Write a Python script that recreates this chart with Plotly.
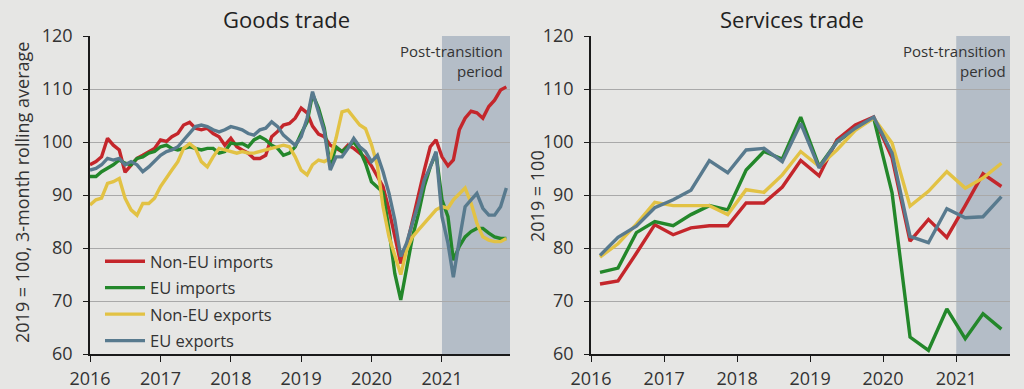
import pandas as pd
import plotly.graph_objects as go
from plotly.subplots import make_subplots

# ---------------- Goods trade (monthly, Jan 2016 - Dec 2021) ----------------
goods_months = pd.date_range("2016-01-01", "2021-12-01", freq="MS")

goods_nonEU_imports = [
    95.7, 96.3, 97.2, 100.7, 99.4, 98.5, 94.3, 95.7, 96.9, 97.5, 98.2, 98.8,
    100.4, 100.1, 101.0, 101.6, 103.2, 103.7, 102.6, 102.3, 102.6, 101.6, 101.0, 99.4,
    100.7, 99.1, 98.5, 97.9, 96.9, 96.9, 97.5, 101.0, 102.0, 103.2, 103.5, 104.5,
    106.4, 105.5, 103.0, 101.5, 101.0, 99.4, 98.8, 98.2, 99.4, 98.8, 97.9, 97.0,
    95.5, 93.5, 91.6, 87.2, 82.1, 77.1, 80.3, 85.3, 89.7, 94.7, 99.1, 100.4,
    97.2, 95.5, 96.6, 102.3, 104.5, 105.8, 105.5, 104.5, 106.7, 107.9, 109.8, 110.4,
]
goods_EU_imports = [
    93.5, 93.5, 94.4, 95.0, 95.7, 96.6, 96.0, 95.7, 96.9, 97.2, 97.9, 98.2,
    99.1, 99.4, 98.8, 98.5, 98.8, 99.1, 98.8, 98.5, 98.8, 98.8, 97.9, 98.2,
    99.8, 99.6, 99.7, 99.1, 100.4, 101.0, 100.4, 99.4, 98.8, 97.5, 97.9, 99.1,
    101.6, 103.8, 109.0, 106.4, 102.6, 95.5, 99.1, 98.2, 99.1, 100.0, 98.5, 96.0,
    92.5, 91.5, 90.5, 83.4, 75.2, 70.2, 76.5, 82.1, 86.5, 91.6, 95.3, 97.9,
    89.1, 85.9, 77.7, 80.3, 82.1, 83.1, 83.7, 83.7, 82.8, 82.1, 81.8, 81.8,
]
goods_nonEU_exports = [
    88.1, 89.1, 89.4, 92.2, 92.5, 93.1, 89.4, 87.2, 86.2, 88.4, 88.4, 89.4,
    91.6, 93.1, 94.7, 96.3, 98.8, 99.7, 98.8, 96.3, 95.3, 97.2, 98.8, 98.5,
    98.2, 97.9, 98.2, 97.9, 97.9, 98.2, 98.5, 98.8, 99.1, 99.4, 99.1, 97.2,
    94.7, 93.8, 95.7, 96.6, 96.3, 96.9, 100.7, 105.7, 106.0, 104.5, 103.2, 102.5,
    99.5, 95.5, 87.8, 82.1, 78.4, 75.0, 79.6, 82.1, 83.4, 84.7, 85.9, 87.2,
    87.8, 87.5, 89.1, 90.3, 91.3, 88.5, 84.7, 82.1, 81.5, 81.2, 81.2, 81.8,
]
goods_EU_exports = [
    94.7, 95.0, 95.7, 96.9, 96.6, 96.9, 95.7, 96.3, 95.7, 94.4, 95.3, 96.3,
    97.5, 98.2, 98.5, 99.1, 100.4, 101.6, 102.9, 103.2, 102.9, 102.3, 101.9, 102.3,
    102.9, 102.6, 102.3, 101.6, 101.3, 102.3, 102.6, 103.8, 102.9, 101.3, 100.4, 99.4,
    101.0, 104.5, 109.5, 105.7, 102.0, 94.7, 97.2, 97.2, 98.8, 100.7, 99.1, 98.2,
    96.3, 97.5, 94.4, 90.3, 85.3, 78.4, 80.9, 84.7, 88.4, 92.8, 95.3, 98.2,
    85.9, 80.9, 74.5, 81.5, 87.8, 89.1, 90.3, 87.5, 86.2, 86.2, 87.8, 91.3,
]

# ---------------- Services trade (quarterly, 2016 Q1 - 2021 Q3) ----------------
services_quarters = [
    "2016-02-15", "2016-05-15", "2016-08-15", "2016-11-15",
    "2017-02-15", "2017-05-15", "2017-08-15", "2017-11-15",
    "2018-02-15", "2018-05-15", "2018-08-15", "2018-11-15",
    "2019-02-15", "2019-05-15", "2019-08-15", "2019-11-15",
    "2020-02-15", "2020-05-15", "2020-08-15", "2020-11-15",
    "2021-02-15", "2021-05-15", "2021-08-15",
]
services_nonEU_imports = [73.2, 73.8, 79.0, 84.4, 82.5, 83.8, 84.2, 84.2, 88.5, 88.5, 91.5, 96.5,
                          93.6, 100.4, 103.2, 104.7, 97.0, 81.3, 85.4, 82.0, 88.0, 94.0, 91.6]
services_EU_imports = [75.4, 76.2, 82.9, 85.0, 84.2, 86.3, 88.0, 87.2, 94.7, 98.2, 96.8, 104.7,
                       95.4, 100.0, 102.5, 104.5, 90.4, 63.2, 60.7, 68.5, 62.9, 67.6, 64.7]
services_nonEU_exports = [78.3, 80.8, 84.5, 88.6, 88.0, 88.0, 88.0, 86.3, 91.0, 90.5, 93.8, 98.2,
                          95.4, 98.5, 102.2, 104.5, 99.8, 87.9, 90.7, 94.4, 91.3, 93.2, 96.0]
services_EU_exports = [78.6, 82.0, 84.1, 87.6, 89.1, 90.9, 96.5, 94.2, 98.5, 98.8, 96.3, 103.5,
                       95.1, 100.0, 102.6, 104.7, 97.9, 82.2, 81.0, 87.4, 85.7, 85.9, 89.7]

series_names = ["Non-EU imports", "EU imports", "Non-EU exports", "EU exports"]
series_colors = ["#c4262b", "#23872a", "#e2c244", "#587a8e"]

year_ticks = ["2016-01-01", "2017-01-01", "2018-01-01", "2019-01-01", "2020-01-01", "2021-01-01"]
year_labels = ["2016", "2017", "2018", "2019", "2020", "2021"]
y_ticks = [60, 70, 80, 90, 100, 110, 120]

post_transition_start = "2021-01-01"
goods_x_end = "2021-12-20"
services_x_end = "2021-09-27"

BG = "#e6e6e4"
SHADE = "#b4bdc7"
TXT = "#333333"
FONT = "Open Sans"

fig = make_subplots(rows=1, cols=2, horizontal_spacing=0.05)

goods_series = [goods_nonEU_imports, goods_EU_imports, goods_nonEU_exports, goods_EU_exports]
services_series = [services_nonEU_imports, services_EU_imports, services_nonEU_exports, services_EU_exports]

for name, color, vals in zip(series_names, series_colors, goods_series):
    fig.add_trace(go.Scatter(x=goods_months, y=vals, mode="lines", name=name,
                             legendgroup=name, line=dict(color=color, width=3.4)),
                  row=1, col=1)
for name, color, vals in zip(series_names, series_colors, services_series):
    fig.add_trace(go.Scatter(x=services_quarters, y=vals, mode="lines", name=name,
                             legendgroup=name, showlegend=False,
                             line=dict(color=color, width=3.4)),
                  row=1, col=2)

# shaded post-transition period
fig.add_shape(type="rect", xref="x", yref="y domain", x0=post_transition_start, x1=goods_x_end,
              y0=0, y1=1, fillcolor=SHADE, line=dict(width=0), layer="below")
fig.add_shape(type="rect", xref="x2", yref="y2 domain", x0=post_transition_start, x1=services_x_end,
              y0=0, y1=1, fillcolor=SHADE, line=dict(width=0), layer="below")

L, R, T, B = 90, 14, 36, 35
W, H = 1024, 389
PW = W - L - R
PH = H - T - B
PLOT_BOTTOM = T + PH

def px_x(p):
    return (p - L) / PW

def px_y(p):
    return (PLOT_BOTTOM - p) / PH

left_dom = [0, px_x(510)]
right_dom = [px_x(591), 1]

xaxis_common = dict(type="date", tickvals=year_ticks, ticktext=year_labels,
                    showgrid=False, zeroline=False, showline=True, linecolor="#1a1a1a",
                    linewidth=1.5, ticks="outside", ticklen=6, tickcolor="#1a1a1a",
                    ticklabelstandoff=2, automargin=False,
                    tickfont=dict(size=18, color=TXT, family=FONT))
yaxis_common = dict(range=[60, 120], tickvals=y_ticks, showgrid=True, gridcolor="#a9a9a9",
                    gridwidth=1, zeroline=False, showline=True, linecolor="#1a1a1a",
                    linewidth=1.5, ticks="outside", ticklen=5, tickcolor="#1a1a1a",
                    ticklabelstandoff=7, automargin=False,
                    tickfont=dict(size=18, color=TXT, family=FONT))

fig.update_layout(
    width=W, height=H,
    margin=dict(l=L, r=R, t=T, b=B),
    paper_bgcolor=BG, plot_bgcolor=BG,
    font=dict(family=FONT, color=TXT),
    xaxis=dict(domain=left_dom, range=["2016-01-01", goods_x_end], **xaxis_common),
    xaxis2=dict(domain=right_dom, range=["2016-01-01", services_x_end], **xaxis_common),
    yaxis=dict(**yaxis_common),
    yaxis2=dict(**yaxis_common),
    showlegend=True,
    legend=dict(x=px_x(100), y=px_y(244), xanchor="left", yanchor="top",
                bgcolor="rgba(0,0,0,0)", font=dict(size=16.5, color=TXT, family=FONT),
                tracegroupgap=2, itemwidth=40),
)

annotations = [
    dict(text="Goods trade", x=px_x(286), y=px_y(19), xref="paper", yref="paper",
         xanchor="center", yanchor="middle",
         showarrow=False, font=dict(size=22, color="#222222", family=FONT)),
    dict(text="Services trade", x=px_x(792), y=px_y(19), xref="paper", yref="paper",
         xanchor="center", yanchor="middle",
         showarrow=False, font=dict(size=22, color="#222222", family=FONT)),
    dict(text="2019 = 100, 3-month rolling average", x=px_x(22), y=px_y(193), xref="paper",
         yref="paper", xanchor="center", yanchor="middle",
         textangle=-90, showarrow=False, font=dict(size=18, color=TXT, family=FONT)),
    dict(text="2019 = 100", x=px_x(537), y=px_y(196), xref="paper", yref="paper",
         xanchor="center", yanchor="middle",
         textangle=-90, showarrow=False, font=dict(size=18, color=TXT, family=FONT)),
    dict(text="Post-transition<br>period", x=px_x(505), y=px_y(39), xref="paper", yref="paper",
         xanchor="right", yanchor="top", align="right", showarrow=False,
         font=dict(size=15, color=TXT, family=FONT)),
    dict(text="Post-transition<br>period", x=px_x(1008), y=px_y(39), xref="paper", yref="paper",
         xanchor="right", yanchor="top", align="right", showarrow=False,
         font=dict(size=15, color=TXT, family=FONT)),
]
fig.update_layout(annotations=annotations)

fig.write_html(
    "out.html",
    config={"displayModeBar": False},
    post_script="document.body.style.margin='0';document.body.style.background='" + BG + "';",
)
